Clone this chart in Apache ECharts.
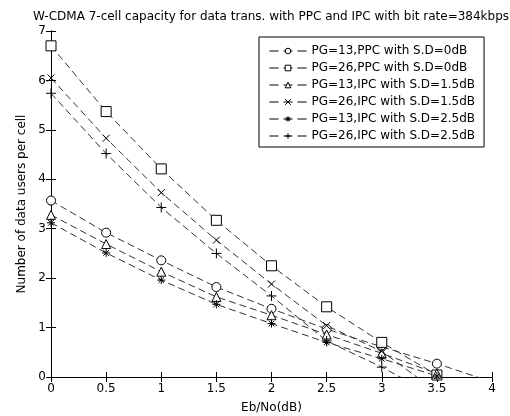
<!DOCTYPE html>
<html><head><meta charset="utf-8">
<script src="https://cdn.jsdelivr.net/npm/echarts@6/dist/echarts.min.js"></script>
<style>html,body{margin:0;padding:0;background:#fff}#c{width:510px;height:416px}</style>
</head><body><div id="c"></div>
<script>
const xValues = [0, 0.5, 1, 1.5, 2, 2.5, 3, 3.5, 4];
const seriesNames = [
  'PG=13,PPC with S.D=0dB',
  'PG=26,PPC with S.D=0dB',
  'PG=13,IPC with S.D=1.5dB',
  'PG=26,IPC with S.D=1.5dB',
  'PG=13,IPC with S.D=2.5dB',
  'PG=26,IPC with S.D=2.5dB'
];
const pg13ppc = [3.57, 2.92, 2.36, 1.82, 1.38, 0.97, 0.61, 0.27, -0.1];
const pg26ppc = [6.70, 5.37, 4.21, 3.17, 2.25, 1.42, 0.70, 0.04];
const pg13ipc15 = [3.28, 2.69, 2.13, 1.62, 1.25, 0.86, 0.48, 0.07];
const pg26ipc15 = [6.05, 4.83, 3.73, 2.77, 1.88, 1.04, 0.52, -0.3];
const pg13ipc25 = [3.12, 2.51, 1.96, 1.47, 1.08, 0.70, 0.37, 0.02];
const pg26ipc25 = [5.74, 4.52, 3.43, 2.50, 1.64, 0.73, 0.20, -0.4];
const xTicks = [0, 0.5, 1, 1.5, 2, 2.5, 3, 3.5, 4];
const yTicks = [0, 1, 2, 3, 4, 5, 6, 7];

const values = [pg13ppc, pg26ppc, pg13ipc15, pg26ipc15, pg13ipc25, pg26ipc25];
const xMark = 'path://M0,0L10,10M10,0L0,10';
const starMark = 'path://M5,0L5,10M0,5L10,5M1.5,1.5L8.5,8.5M8.5,1.5L1.5,8.5';
const plusMark = 'path://M5,0L5,10M0,5L10,5';
const symbols = ['circle', 'rect', 'triangle', xMark, starMark, plusMark];
const sizes = [9, 10, 9, 7, 8, 10];

const FONT = 'DejaVu Sans, Verdana, sans-serif';
const chart = echarts.init(document.getElementById('c'), null, {renderer: 'canvas'});
const series = values.map((v, i) => ({
  name: seriesNames[i],
  type: 'line',
  data: v.map((y, j) => [xValues[j], y]),
  symbol: symbols[i],
  symbolSize: sizes[i],
  showAllSymbol: true,
  clip: true,
  lineStyle: {color: '#333', width: 1, type: [7, 4]},
  itemStyle: {color: '#fff', borderColor: '#000', borderWidth: 1},
  emphasis: {disabled: true},
  animation: false,
  z: 3
}));
const axisCommon = {
  axisLine: {show: true, lineStyle: {color: '#000', width: 1}},
  axisTick: {show: true, inside: true, length: 5, lineStyle: {color: '#000'}},
  splitLine: {show: false}
};
chart.setOption({
  animation: false,
  backgroundColor: '#fff',
  title: {
    text: 'W-CDMA 7-cell capacity for data trans. with PPC and IPC with bit rate=384kbps',
    left: 266, top: 6, textAlign: 'center',
    textStyle: {fontFamily: FONT, fontSize: 12, fontWeight: 'normal', color: '#000'}
  },
  legend: {
    orient: 'vertical', left: 259, top: 37,
    backgroundColor: '#fff', borderColor: '#000', borderWidth: 1,
    padding: [8, 9, 5, 10], itemGap: 5, itemWidth: 37, itemHeight: 7,
    itemStyle: {color: '#fff', borderColor: '#000', borderWidth: 1},
    lineStyle: {color: '#000', width: 1, type: [9, 5]},
    textStyle: {fontFamily: FONT, fontSize: 12, color: '#000'},
    data: seriesNames
  },
  grid: {left: 51, right: 18, top: 31, bottom: 39, containLabel: false, outerBoundsMode: 'none'},
  xAxis: [{
    type: 'value', min: 0, max: 4, interval: 0.5,
    name: 'Eb/No(dB)', nameLocation: 'middle', nameGap: 25,
    nameTextStyle: {fontFamily: FONT, fontSize: 12, color: '#000'},
    axisLabel: {fontFamily: FONT, fontSize: 12, color: '#000', margin: 6,
      formatter: v => xTicks.includes(v) ? String(v) : ''},
    ...axisCommon
  }, {
    type: 'value', min: 0, max: 4, interval: 0.5, position: 'top',
    axisLabel: {show: false}, ...axisCommon
  }],
  yAxis: [{
    type: 'value', min: 0, max: 7, interval: 1,
    name: 'Number of data users per cell', nameLocation: 'middle', nameGap: 21,
    nameTextStyle: {fontFamily: FONT, fontSize: 12, color: '#000'},
    axisLabel: {fontFamily: FONT, fontSize: 12, color: '#000', margin: 5,
      formatter: v => yTicks.includes(v) ? String(v) : ''},
    ...axisCommon
  }, {
    type: 'value', min: 0, max: 7, interval: 1, position: 'right',
    axisLabel: {show: false}, ...axisCommon
  }],
  series: series
});
</script></body></html>
